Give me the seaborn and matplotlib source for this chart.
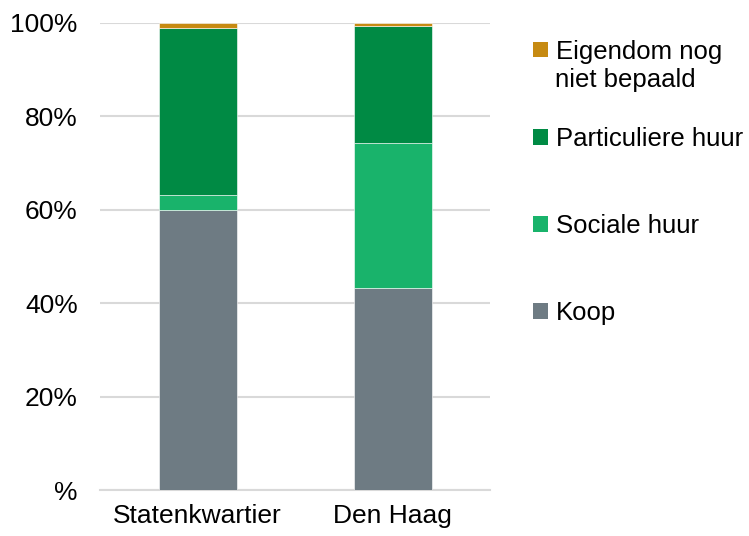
import matplotlib
matplotlib.use("Agg")
import matplotlib.pyplot as plt
import seaborn as sns
import pandas as pd
import numpy as np
from matplotlib.patches import Patch

categories = ["Statenkwartier", "Den Haag"]
koop = [60.0, 43.3]
sociale_huur = [3.1, 31.0]
particuliere_huur = [35.8, 25.0]
eigendom_onbepaald = [1.1, 0.7]

series_names = ["Koop", "Sociale huur", "Particuliere huur", "Eigendom nog\nniet bepaald"]
series_values = [koop, sociale_huur, particuliere_huur, eigendom_onbepaald]
colors = ["#6E7B83", "#19B36B", "#008A44", "#C68A12"]
ytick_values = [0, 20, 40, 60, 80, 100]
ytick_labels = ["%", "20%", "40%", "60%", "80%", "100%"]

sns.set_theme(style="white")
plt.rcParams["font.family"] = ["Liberation Sans", "DejaVu Sans"]
plt.rcParams["text.color"] = "black"

fig = plt.figure(figsize=(7.49, 5.36), dpi=100)
ax = fig.add_axes([100 / 749, 1 - 490 / 536, 390 / 749, 467 / 536])

bottom = np.zeros(len(categories))
for name, vals, col in zip(series_names, series_values, colors):
    df = pd.DataFrame({"cat": categories, "val": vals})
    sns.barplot(data=df, x="cat", y="val", color=col, width=0.4, bottom=bottom,
                ax=ax, saturation=1, edgecolor="white", linewidth=0.4, zorder=3)
    bottom = bottom + np.array(vals)

ax.set_ylim(0, 100)
ax.set_xlim(-0.5, 1.5)
ax.set_yticks(ytick_values)
ax.set_yticklabels(ytick_labels)
ax.yaxis.grid(True, color="#D9D9D9", linewidth=1.5, zorder=0)
ax.set_axisbelow(True)
for s in ["top", "right", "left"]:
    ax.spines[s].set_visible(False)
ax.spines["bottom"].set_color("#D9D9D9")
ax.spines["bottom"].set_linewidth(1.5)
ax.set_xlabel("")
ax.set_ylabel("")
ax.tick_params(axis="y", length=0, pad=16, labelsize=19, labelcolor="#000000")
ax.tick_params(axis="x", length=0, pad=10, labelsize=19, labelcolor="#000000")

handles = [Patch(facecolor=c, edgecolor="none") for c in colors[::-1]]
labels = ["Eigendom nog", "Particuliere huur", "Sociale huur", "Koop"]
leg = fig.legend(handles, labels, loc="upper left", bbox_to_anchor=(533 / 749, 1 - 39.5 / 536),
                 frameon=False, fontsize=18.5, handlelength=0.57, handleheight=0.57,
                 handletextpad=0.33, labelspacing=2.46, borderaxespad=0, borderpad=0,
                 labelcolor="black")
fig.text(555 / 749, 1 - 80 / 536, "niet bepaald", fontsize=18.5, va="center", ha="left",
         color="black")

fig.savefig("out.png", dpi=100)
